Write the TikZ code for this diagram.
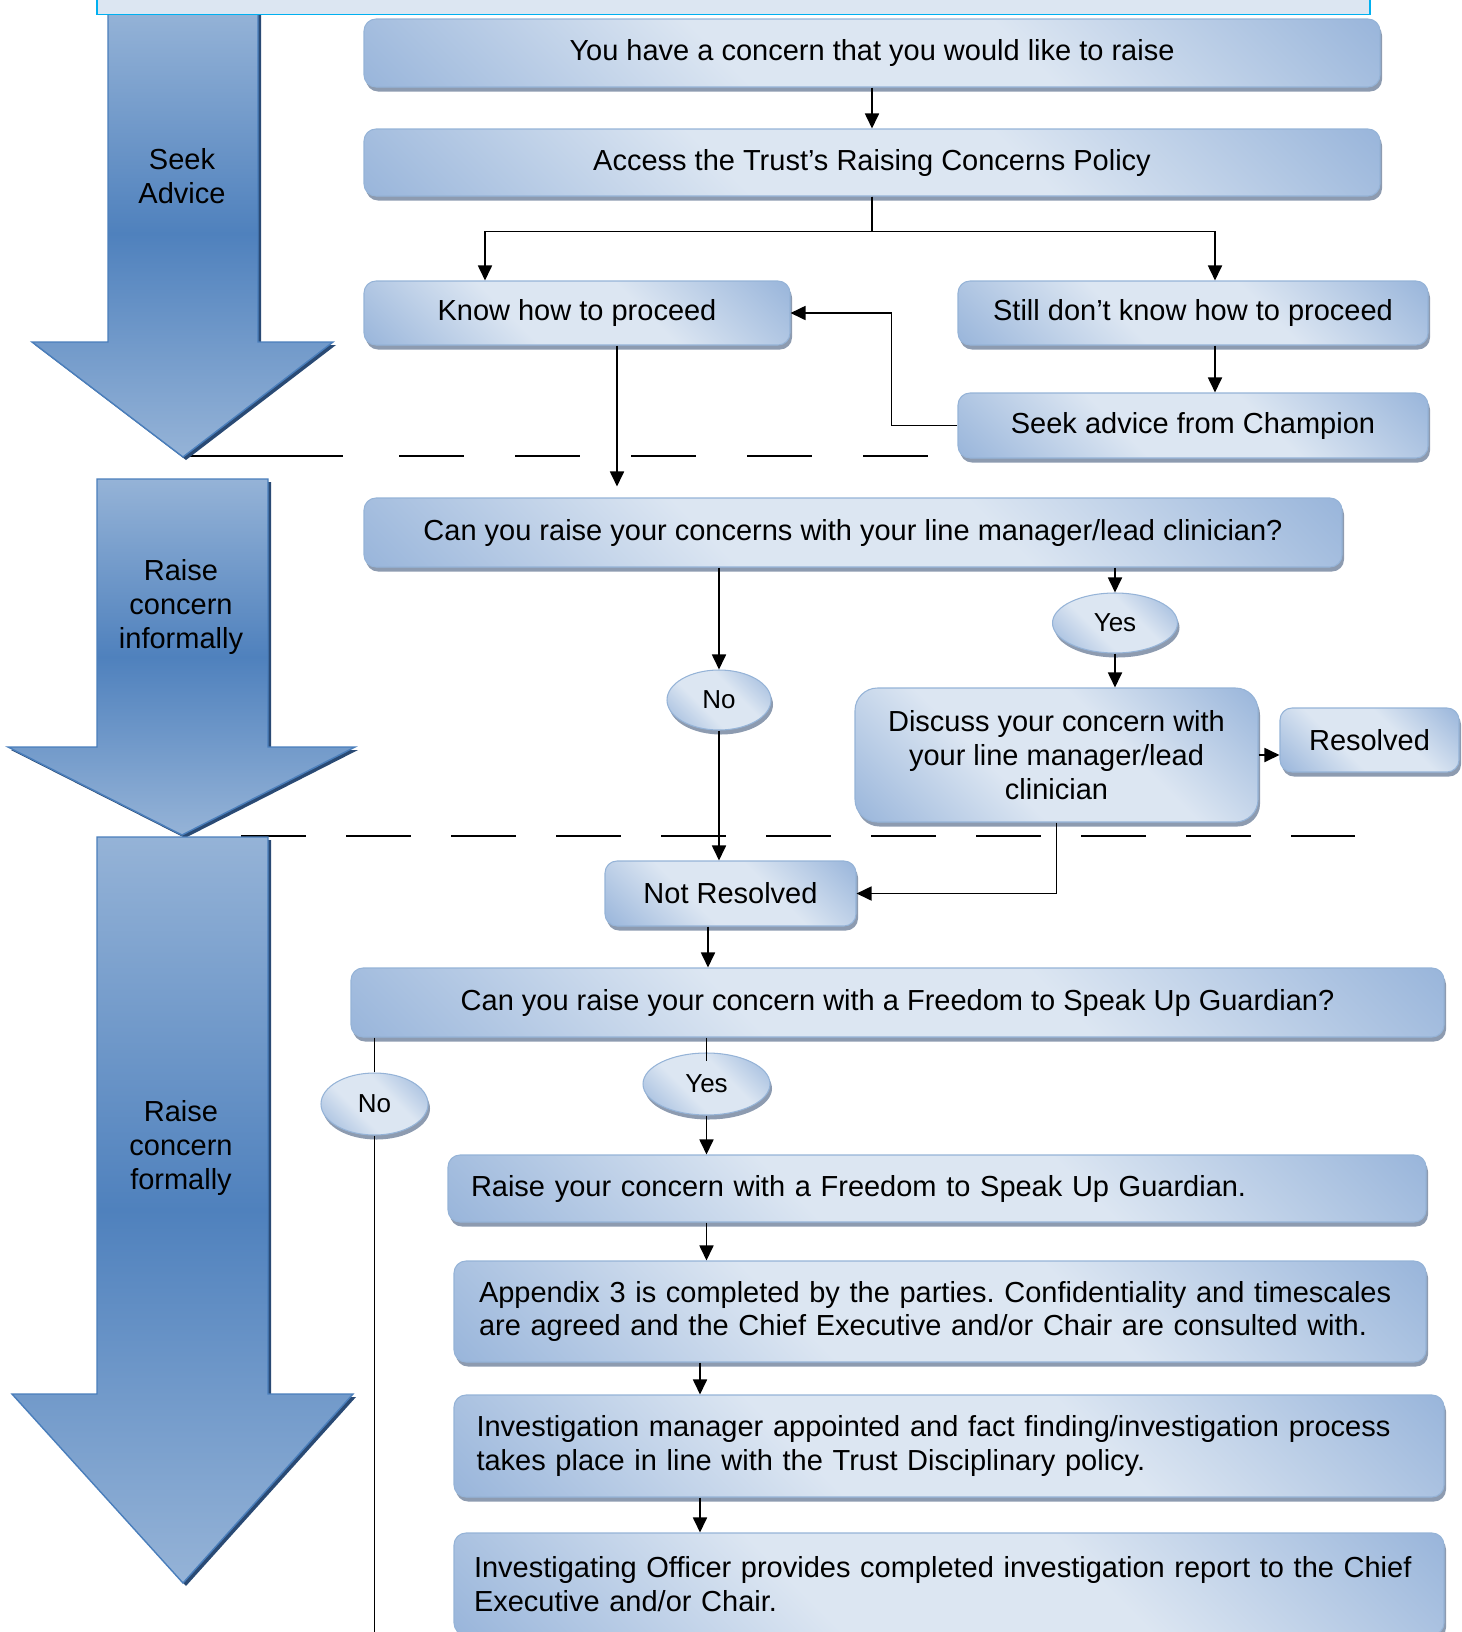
\documentclass[tikz,border=0pt]{standalone}
\usepackage{fontspec}
\setmainfont{Liberation Sans}
\usetikzlibrary{arrows.meta,shapes.geometric,shadows}
\definecolor{boxlight}{HTML}{DCE6F2}
\definecolor{boxdark}{HTML}{9AB6DB}
\definecolor{boxline}{HTML}{95B3D7}
\definecolor{boxshadow}{HTML}{8D9BB0}
\definecolor{arrowlight}{HTML}{95B3D7}
\definecolor{arrowdark}{HTML}{4F81BD}
\definecolor{arrowline}{HTML}{4A7EBB}
\definecolor{arrowshadow}{HTML}{2A4A74}
\definecolor{topline}{HTML}{00B0F0}
\pgfdeclareverticalshading{boxshade}{100bp}{color(0bp)=(boxdark); color(15bp)=(boxdark); color(40bp)=(boxlight); color(60bp)=(boxlight); color(85bp)=(boxdark); color(100bp)=(boxdark)}
\frenchspacing
\begin{document}
\begin{tikzpicture}[
  flowbox/.style={draw=boxline,line width=0.6pt,rounded corners=0.24cm,shade,shading=boxshade,shading angle=-45,drop shadow={shadow xshift=0.04cm,shadow yshift=-0.09cm,fill=boxshadow,opacity=1},font=\fontsize{16.5}{19.3}\selectfont,align=center,inner sep=0pt},
  choice/.style={ellipse,draw=boxline,line width=0.6pt,shade,shading=boxshade,shading angle=-45,drop shadow={shadow xshift=0.04cm,shadow yshift=-0.09cm,fill=boxshadow,opacity=1},font=\fontsize{14.8}{17}\selectfont,inner sep=0pt},
  phasearrow/.style={draw=arrowline,line width=0.8pt,top color=arrowlight,bottom color=arrowlight,middle color=arrowdark,drop shadow={shadow xshift=0.06cm,shadow yshift=-0.06cm,fill=arrowshadow,opacity=1}},
  phase/.style={font=\fontsize{16.5}{19.3}\selectfont,align=center},
  conn/.style={line width=1pt,-{Triangle[length=0.3cm,width=0.28cm]}},
  link/.style={line width=1pt},
  divider/.style={line width=1.1pt}]
  \useasboundingbox (0,0) rectangle (29.24,-32.64);
  \clip (0,0) rectangle (29.24,-32.64);
  \draw[divider] (3.66,-9.12) -- (6.86,-9.12);
  \draw[divider,dash pattern=on 1.3cm off 1.02cm] (7.98,-9.12) -- (18.68,-9.12);
  \draw[divider,dash pattern=on 1.3cm off 0.8cm] (4.82,-16.72) -- (27.10,-16.72);
  \path[phasearrow] (2.16,-0.2) -- (5.16,-0.2) -- (5.16,-6.84) -- (6.66,-6.84) -- (3.66,-9.14) -- (0.64,-6.84) -- (2.16,-6.84) -- cycle;
  \path[phasearrow] (1.94,-9.58) -- (5.36,-9.58) -- (5.36,-14.94) -- (7.10,-14.94) -- (3.64,-16.70) -- (0.16,-14.94) -- (1.94,-14.94) -- cycle;
  \path[phasearrow] (1.94,-16.74) -- (5.36,-16.74) -- (5.36,-27.88) -- (7.06,-27.88) -- (3.66,-31.66) -- (0.24,-27.88) -- (1.94,-27.88) -- cycle;
  \draw[topline,fill=boxlight,line width=1.1pt] (1.94,0.4) rectangle (27.40,-0.29);
  \node[phase] (seek) at (3.64,-3.52){Seek\\Advice};
  \node[phase] (informal) at (3.62,-12.14){Raise\\concern\\informally};
  \node[phase] (formal) at (3.62,-22.96){Raise\\concern\\formally};
  \node[flowbox,minimum width=20.32cm,minimum height=1.36cm] (concern) at (17.44,-1.06){You have a concern that you would like to raise};
  \node[flowbox,minimum width=20.32cm,minimum height=1.34cm] (policy) at (17.44,-3.25){Access the Trust’s Raising Concerns Policy};
  \node[flowbox,minimum width=8.52cm,minimum height=1.28cm] (know) at (11.54,-6.26){Know how to proceed};
  \node[flowbox,minimum width=9.40cm,minimum height=1.28cm] (unsure) at (23.86,-6.26){Still don’t know how to proceed};
  \node[flowbox,minimum width=9.40cm,minimum height=1.30cm] (champion) at (23.86,-8.51){Seek advice from Champion};
  \node[flowbox,minimum width=19.56cm,minimum height=1.38cm] (linemgr) at (17.06,-10.65){Can you raise your concerns with your line manager/lead clinician?};
  \node[choice,minimum width=2.08cm,minimum height=1.20cm] (no1) at (14.38,-14.00){No};
  \node[choice,minimum width=2.50cm,minimum height=1.20cm] (yes1) at (22.30,-12.46){Yes};
  \node[flowbox,rounded corners=0.45cm,minimum width=8.06cm,minimum height=2.68cm] (discuss) at (21.13,-15.10){Discuss your concern with\\your line manager/lead\\clinician};
  \node[flowbox,minimum width=3.58cm,minimum height=1.28cm] (resolved) at (27.39,-14.80){Resolved};
  \node[flowbox,minimum width=5.02cm,minimum height=1.30cm] (notres) at (14.61,-17.87){Not Resolved};
  \node[flowbox,minimum width=21.86cm,minimum height=1.38cm] (guardq) at (17.95,-20.05){Can you raise your concern with a Freedom to Speak Up Guardian?};
  \node[choice,minimum width=2.14cm,minimum height=1.24cm] (no2) at (7.49,-22.08){No};
  \node[choice,minimum width=2.54cm,minimum height=1.24cm] (yes2) at (14.13,-21.68){Yes};
  \node[flowbox,text width=18.64cm,align=left,inner xsep=0.46cm,minimum height=1.34cm] (guard) at (18.74,-23.77){Raise your concern with a Freedom to Speak Up Guardian.};
  \node[flowbox,text width=18.44cm,align=left,inner xsep=0.5cm,minimum height=2.02cm] (appendix) at (18.80,-26.23){Appendix 3 is completed by the parties. Confidentiality and timescales\\are agreed and the Chief Executive and/or Chair are consulted with.};
  \node[flowbox,text width=18.90cm,align=left,inner xsep=0.45cm,minimum height=2.04cm] (investigate) at (18.98,-28.92){Investigation manager appointed and fact finding/investigation process\\takes place in line with the Trust Disciplinary policy.};
  \node[flowbox,text width=19.00cm,align=left,inner xsep=0.4cm,minimum height=2.04cm] (report) at (18.98,-31.68){Investigating Officer provides completed investigation report to the Chief\\Executive and/or Chair.};
  \coordinate (pageend) at (7.49,-33.0);
  \draw[conn] (concern) -- (policy);
  \draw[conn] (policy.south) -- ++(0,-0.70) -| ([xshift=-1.84cm]know.north);
  \draw[conn] (policy.south) -- ++(0,-0.70) -| ([xshift=0.44cm]unsure.north);
  \draw[conn] ([xshift=0.44cm]unsure.south) -- ([xshift=0.44cm]champion.north);
  \draw[conn] (champion.west) -- ++(-1.32,0) |- (know.east);
  \draw[conn,shorten >=0.22cm] ([xshift=0.8cm]know.south) -- ([xshift=0.8cm]know.south |- linemgr.north);
  \draw[conn] (no1 |- linemgr.south) -- (no1.north);
  \draw[conn] (yes1 |- linemgr.south) -- (yes1.north);
  \draw[conn] (yes1.south) -- (yes1.south |- discuss.north);
  \draw[conn] (no1.south) -- (no1.south |- notres.north);
  \draw[conn] (discuss.east) -- (discuss.east -| resolved.west);
  \draw[conn] (discuss.south) |- (notres.east);
  \draw[conn] ([xshift=-0.45cm]notres.south) -- ([xshift=-0.45cm]notres.south |- guardq.north);
  \draw[link] (no2 |- guardq.south) -- (no2.north);
  \draw[link] (no2.south) -- (no2.south |- pageend);
  \draw[link] (yes2 |- guardq.south) -- ([yshift=-0.18cm]yes2.north);
  \draw[conn] (yes2.south) -- (yes2.south |- guard.north);
  \draw[conn] (yes2.south |- guard.south) -- (yes2.south |- appendix.north);
  \draw[conn] ([xshift=-4.80cm]appendix.south) -- ([xshift=-4.80cm]appendix.south |- investigate.north);
  \draw[conn] ([xshift=-4.98cm]investigate.south) -- ([xshift=-4.98cm]investigate.south |- report.north);
\end{tikzpicture}
\end{document}
